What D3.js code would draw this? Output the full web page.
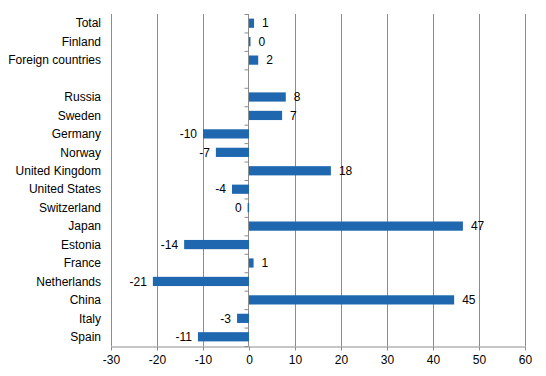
<!DOCTYPE html>
<html>
<head>
<meta charset="utf-8">
<script src="https://cdn.jsdelivr.net/npm/d3@7"></script>
<style>
  body { margin: 0; background: #fff; }
  text { font-family: Arial, "Liberation Sans", sans-serif; font-size: 12px; fill: #000; }
</style>
</head>
<body>
<svg width="546" height="376"></svg>
<script>
// Categories (blank entry makes the gap after "Foreign countries")
const categories = ["Total", "Finland", "Foreign countries", "", "Russia", "Sweden", "Germany",
    "Norway", "United Kingdom", "United States", "Switzerland", "Japan", "Estonia", "France",
    "Netherlands", "China", "Italy", "Spain"];

// Change values
const values = [1.1, 0.3, 2.0, null, 8.0, 7.2, -10.0, -7.2, 17.8, -3.7, -0.3, 46.5, -14.1, 1.0,
    -20.9, 44.6, -2.6, -11.1];

const xTicks = [-30, -20, -10, 0, 10, 20, 30, 40, 50, 60];

const svg = d3.select("svg");
const plotLeft = 111, plotRight = 525, plotTop = 14, plotBottom = 346;

const x = d3.scaleLinear().domain([-30, 60]).range([plotLeft, plotRight]);
const y = d3.scaleBand()
    .domain(categories.map((c, i) => i))
    .range([plotTop, plotBottom])
    .paddingInner(0.5)
    .paddingOuter(0.25);

// Vertical gridlines
svg.append("g")
    .selectAll("line")
    .data(xTicks.filter(d => d !== 0))
    .join("line")
    .attr("x1", d => x(d) + 0.5).attr("x2", d => x(d) + 0.5)
    .attr("y1", plotTop).attr("y2", plotBottom)
    .attr("stroke", "#8c8c8c").attr("stroke-width", 1);

// Bottom axis
const xAxis = svg.append("g")
    .attr("transform", `translate(0,${plotBottom + 0.5})`)
    .call(d3.axisBottom(x).tickValues(xTicks).tickSize(4).tickSizeOuter(0).tickFormat(d => String(d)));
xAxis.select(".domain").attr("stroke", "#8c8c8c");
xAxis.selectAll(".tick line").attr("stroke", "#8c8c8c");
xAxis.selectAll("text").attr("fill", "#000").attr("dy", "0.9em")
    .style("font-size", "12px").style("font-family", "Arial, 'Liberation Sans', sans-serif");

// Zero axis with tick marks between categories
const step = y.step();
const zx = Math.round(x(0)) - 0.5;
svg.append("line")
    .attr("x1", zx).attr("x2", zx).attr("y1", plotTop).attr("y2", plotBottom)
    .attr("stroke", "#8c8c8c");
svg.append("g")
    .selectAll("line")
    .data(d3.range(categories.length + 1))
    .join("line")
    .attr("x1", zx - 4).attr("x2", zx)
    .attr("y1", i => plotTop + i * step + 0.5).attr("y2", i => plotTop + i * step + 0.5)
    .attr("stroke", "#8c8c8c");

// Bars
svg.append("g")
    .selectAll("rect")
    .data(values.map((v, i) => ({ v, i })).filter(d => d.v !== null))
    .join("rect")
    .attr("x", d => d.v >= 0 ? x(0) : x(d.v))
    .attr("width", d => Math.max(1.5, Math.abs(x(d.v) - x(0))))
    .attr("y", d => y(d.i))
    .attr("height", y.bandwidth())
    .attr("fill", "#1f68b0");

// Category labels
svg.append("g")
    .selectAll("text")
    .data(categories)
    .join("text")
    .attr("x", 101)
    .attr("y", (c, i) => y(i) + y.bandwidth() / 2)
    .attr("dy", "0.35em")
    .attr("text-anchor", "end")
    .text(c => c);

// Value labels
svg.append("g")
    .selectAll("text")
    .data(values.map((v, i) => ({ v, i })).filter(d => d.v !== null))
    .join("text")
    .attr("x", d => d.v >= 0 ? x(d.v) + 8 : x(d.v) - 6)
    .attr("y", d => y(d.i) + y.bandwidth() / 2)
    .attr("dy", "0.35em")
    .attr("text-anchor", d => d.v >= 0 ? "start" : "end")
    .text(d => String(Math.round(d.v) === 0 ? 0 : Math.round(d.v)));
</script>
</body>
</html>
